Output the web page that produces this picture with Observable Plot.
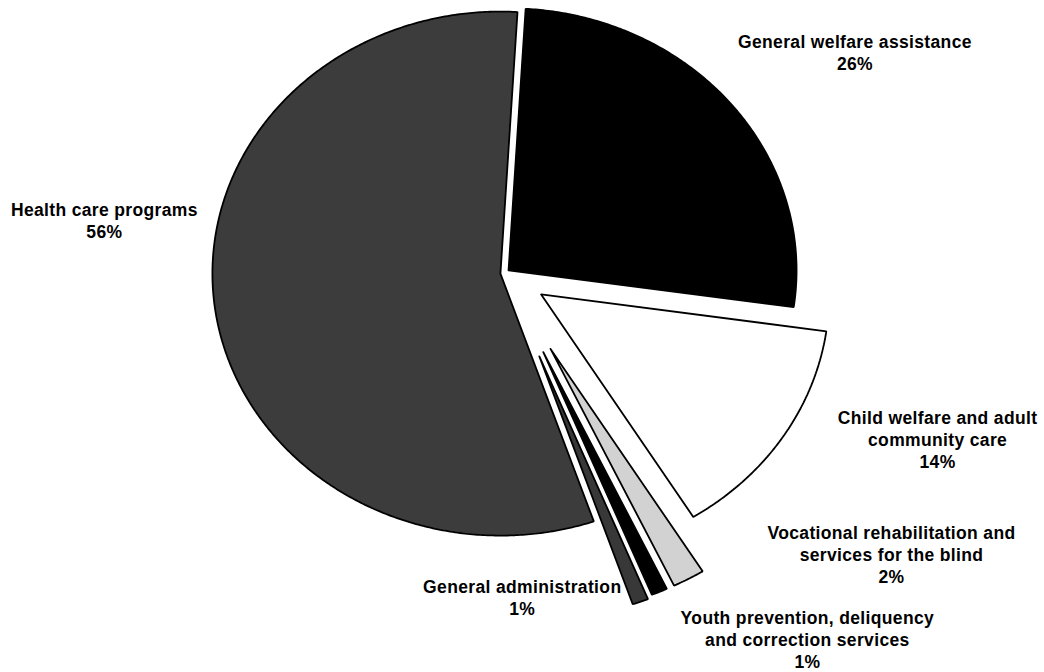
<!DOCTYPE html>
<html><head><meta charset="utf-8">
<script src="https://cdn.jsdelivr.net/npm/d3@7"></script>
<script src="https://cdn.jsdelivr.net/npm/@observablehq/plot@0.6"></script>
<style>body{margin:0;background:#fff} #chart{width:1044px;height:672px}</style>
</head><body><div id="chart"></div>
<script>
// ---- data (shares; labels show rounded %) ----
const categories = [
  "General welfare assistance",
  "Child welfare and adult community care",
  "Vocational rehabilitation and services for the blind",
  "Youth prevention, deliquency and correction services",
  "General administration",
  "Health care programs"
];
const shares = [26.3, 13.9, 1.8, 0.9, 0.9, 56.2];
const labels = [
  "General welfare assistance\n26%",
  "Child welfare and adult\ncommunity care\n14%",
  "Vocational rehabilitation and\nservices for the blind\n2%",
  "Youth prevention, deliquency\nand correction services\n1%",
  "General administration\n1%",
  "Health care programs\n56%"
];

// ---- layout / style ----
const fills = ["#000000", "#ffffff", "#d2d2d2", "#000000", "#383838", "#3c3c3c"];
const explode = [0.016, 0.15, 0.33, 0.33, 0.34, 0.016];
const labelX = [1.215, 1.502, 1.342, 1.050, 0.060, -1.391];
const labelY = [0.845, -0.632, -1.074, -1.395, -1.237, 0.204];
const startDeg = 3.4;

// ---- build slice outlines (unit circle, stretched by scales into ellipse) ----
const total = d3.sum(shares);
let acc = startDeg * Math.PI / 180;
const pts = [];
categories.forEach((c, i) => {
  const a0 = acc, a1 = acc + shares[i] / total * 2 * Math.PI;
  acc = a1;
  const mid = (a0 + a1) / 2;
  const ox = explode[i] * Math.sin(mid), oy = explode[i] * Math.cos(mid);
  pts.push({slice: c, x: ox, y: oy});
  const n = Math.max(4, Math.ceil((a1 - a0) * 180 / Math.PI * 2));
  for (let k = 0; k <= n; k++) {
    const a = a0 + (a1 - a0) * k / n;
    pts.push({slice: c, x: ox + Math.sin(a), y: oy + Math.cos(a)});
  }
  pts.push({slice: c, x: ox, y: oy});
});

const labelData = categories.map((c, i) => ({x: labelX[i], y: labelY[i], text: labels[i]}));

const chart = Plot.plot({
  width: 1044, height: 672,
  margin: 0,
  x: {axis: null, domain: [-1.7517, 1.8733]},
  y: {axis: null, domain: [-1.5248, 1.0401]},
  style: {background: "#fff", letterSpacing: "0.35px"},
  marks: [
    ...categories.map((c, i) => Plot.line(pts.filter(p => p.slice === c), {
      x: "x", y: "y", fill: fills[i], stroke: "#000", strokeWidth: 1.8,
      strokeLinejoin: "miter", curve: "linear"
    })),
    Plot.text(labelData, {
      x: "x", y: "y", text: "text", textAnchor: "middle",
      fontSize: 17.5, fontWeight: "bold", lineHeight: 1.26,
      fontFamily: "'Liberation Sans', Arial, sans-serif", fill: "#000"
    })
  ]
});
document.getElementById("chart").appendChild(chart);
</script>
</body></html>
